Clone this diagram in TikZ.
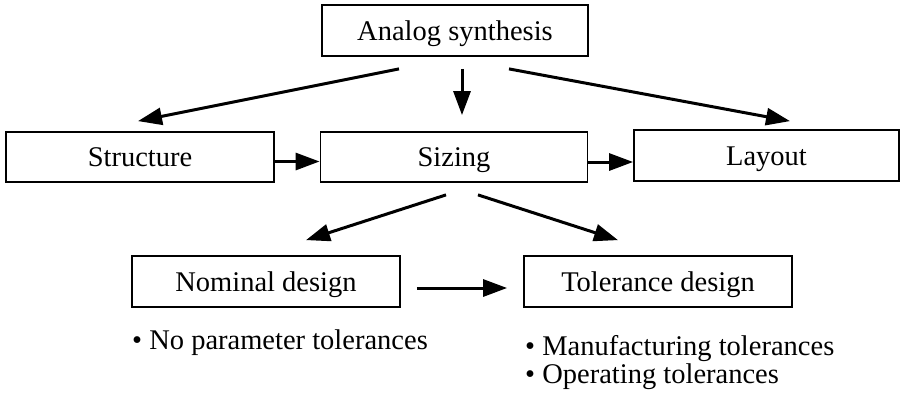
\documentclass[tikz,border=0pt]{standalone}
\usepackage{fontspec}
\setmainfont{Liberation Serif}
\usetikzlibrary{arrows.meta,positioning,calc}

\begin{document}
\begin{tikzpicture}[x=1pt,y=-1pt,
    box/.style={draw,line width=1.8pt,minimum height=51pt,inner sep=0pt,
      text height=19pt,text depth=0pt},
    arr/.style={line width=3pt,-{Triangle[length=24pt,width=17pt]}}]
  \fontsize{28.5}{34}\selectfont
  \useasboundingbox (0,0) rectangle (901,394);
  \node[box,minimum width=266pt] (asyn) at (455,30.5) {Analog synthesis};
  \node[box,minimum width=268pt,minimum height=50pt] (struct) at (140,157) {Structure};
  \node[box,minimum width=267pt,minimum height=50pt] (sizing) at (454,157) {Sizing};
  \node[box,minimum width=265pt] (layout) at (766.5,155.5) {Layout};
  \node[box,minimum width=268pt] (nominal) at (266,281.5) {Nominal design};
  \node[box,minimum width=268pt] (tolerance) at (658,281.5) {Tolerance design};
  \node[anchor=base west,inner sep=0pt] (nomtol) at (132,349) {\textbullet\ No parameter tolerances};
  \node[anchor=base west,inner sep=0pt] (mantol) at (525,355) {\textbullet\ Manufacturing tolerances};
  \node[anchor=base west,inner sep=0pt] (optol) at (525,383.5) {\textbullet\ Operating tolerances};
  % top level
  \draw[arr] ($(asyn.south)+(-56,12)$) -- ($(struct.north)+(-2,-10)$);
  \draw[arr] ($(asyn.south)+(7,12)$) -- ($(sizing.north)+(8,-16)$);
  \draw[arr] ($(asyn.south)+(54,12)$) -- ($(layout.north)+(23.5,-8)$);
  % middle row
  \draw[arr] ($(struct.east)+(0,4.5)$) -- ($(sizing.west)+(0,4.5)$);
  \draw[arr] ($(sizing.east)+(0,5)$) -- ($(layout.west)+(0,6.5)$);
  % sizing
  \draw[arr] ($(sizing.south)+(-8,12)$) -- ($(nominal.north)+(40,-15)$);
  \draw[arr] ($(sizing.south)+(24,12)$) -- ($(tolerance.north)+(-40,-15)$);
  \draw[arr] ($(nominal.east)+(16,6.5)$) -- ($(tolerance.west)+(-16,6.5)$);
\end{tikzpicture}
\end{document}
